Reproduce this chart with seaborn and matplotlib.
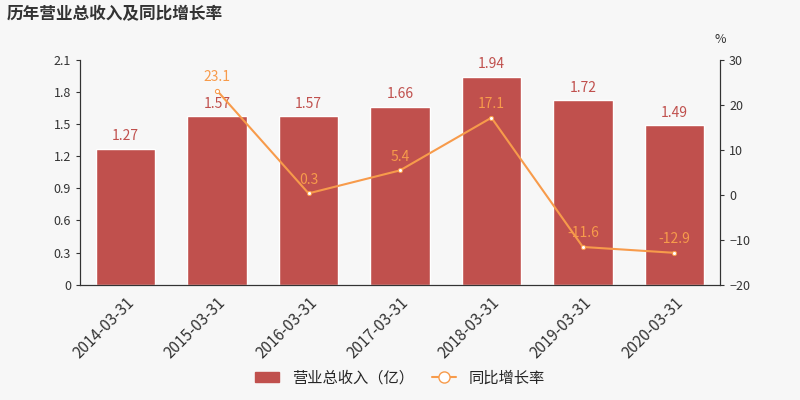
import matplotlib
matplotlib.use("Agg")
import matplotlib.pyplot as plt
import seaborn as sns
import pandas as pd
from matplotlib.lines import Line2D
from matplotlib.patches import Patch

dates = ["2014-03-31", "2015-03-31", "2016-03-31", "2017-03-31",
         "2018-03-31", "2019-03-31", "2020-03-31"]
revenue = [1.27, 1.57, 1.57, 1.66, 1.94, 1.72, 1.49]
growth = [None, 23.1, 0.3, 5.4, 17.1, -11.6, -12.9]

sns.set_style("white")
plt.rcParams['font.family'] = ['Noto Sans CJK SC', 'DejaVu Sans']

bar_color = "#c0504d"
line_color = "#f79b4b"
bg = "#f7f7f7"

df = pd.DataFrame({"date": dates, "revenue": revenue, "growth": growth})

fig = plt.figure(figsize=(8, 4), dpi=100, facecolor=bg)
ax = fig.add_axes([0.1, 0.288, 0.8, 0.563], facecolor=bg)
sns.barplot(data=df, x="date", y="revenue", color=bar_color, width=0.65,
            saturation=1, ax=ax)
ax.set_ylim(0, 2.1)
ax.set_yticks([i * 0.3 for i in range(8)])
ax.set_yticklabels(["0", "0.3", "0.6", "0.9", "1.2", "1.5", "1.8", "2.1"], fontsize=9)
ax.set_xlabel("")
ax.set_ylabel("")
ax.set_xticks(range(len(dates)))
ax.set_xticklabels(dates, rotation=45, ha="right", rotation_mode="anchor", fontsize=11)
for i, v in enumerate(revenue):
    ax.text(i, v + 0.05, f"{v:.2f}", ha="center", va="bottom", color=bar_color, fontsize=10)

ax2 = ax.twinx()
xs = [i for i, g in enumerate(growth) if g is not None]
ys = [g for g in growth if g is not None]
sns.lineplot(x=xs, y=ys, color=line_color, marker="o", markersize=3,
             markerfacecolor="white", markeredgecolor=line_color, ax=ax2)
ax2.set_ylim(-20, 30)
ax2.set_yticks(range(-20, 31, 10))
ax2.tick_params(labelsize=9)
for x, y in zip(xs, ys):
    ax2.text(x, y + 1.5, f"{y:.1f}", ha="center", va="bottom", color=line_color, fontsize=10)
ax2.text(1.0, 1.06, "%", transform=ax.transAxes, ha="center", va="bottom", fontsize=9, color="#333333")

for a in (ax, ax2):
    for s in ["top"]:
        a.spines[s].set_visible(False)
    for s in ["left", "right", "bottom"]:
        a.spines[s].set_color("#333333")
    a.tick_params(colors="#333333", length=3)
ax.set_xlim(-0.5, len(dates) - 0.5)

fig.text(0.008, 0.965, "历年营业总收入及同比增长率", fontsize=12, fontweight="bold",
         color="#333333", va="center")

handles = [Patch(color=bar_color, label="营业总收入（亿）"),
           Line2D([0], [0], color=line_color, marker="o", markersize=8,
                  markerfacecolor="white", label="同比增长率")]
fig.legend(handles=handles, loc="lower center", bbox_to_anchor=(0.5, 0.0), ncol=2,
           frameon=False, fontsize=11, handlelength=1.6, columnspacing=1.2)

fig.savefig("out.png", dpi=100, facecolor=bg)
